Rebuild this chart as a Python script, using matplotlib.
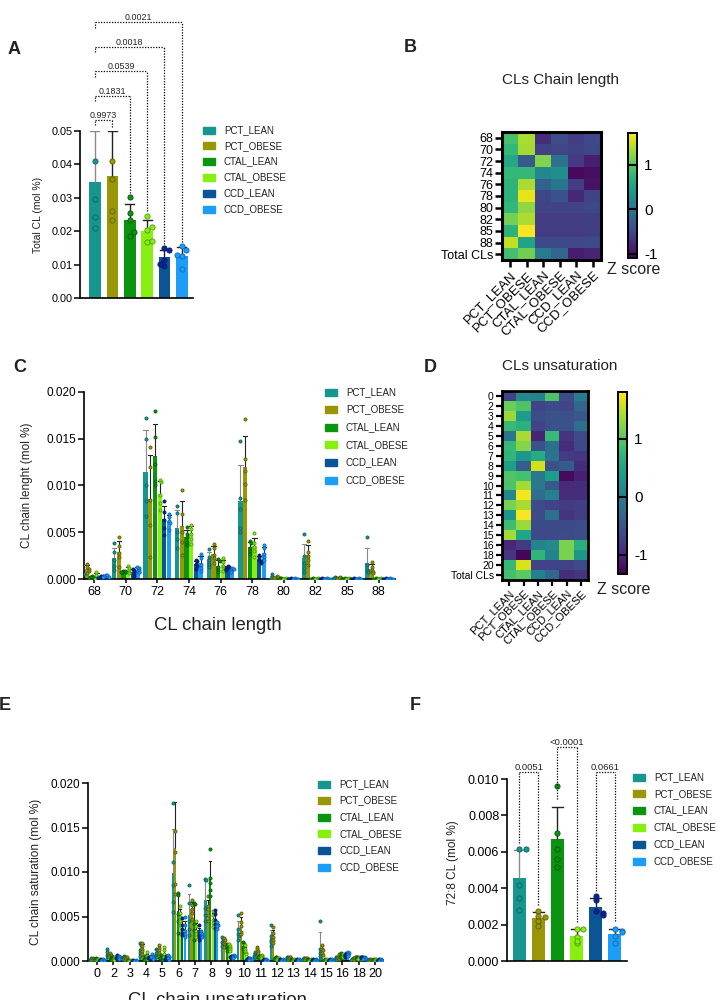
import numpy as np
import matplotlib
matplotlib.use("Agg")
import matplotlib.pyplot as plt
from matplotlib.patches import Rectangle
from matplotlib.ticker import FormatStrFormatter

plt.rcParams['font.family'] = ['Liberation Sans', 'DejaVu Sans']
plt.rcParams['axes.unicode_minus'] = False
plt.rcParams['axes.linewidth'] = 1.2

W, H = 726, 1000

groups = ['PCT_LEAN', 'PCT_OBESE', 'CTAL_LEAN', 'CTAL_OBESE', 'CCD_LEAN', 'CCD_OBESE']
colors = ['#17958f', '#999708', '#0a9410', '#88f010', '#0b5597', '#1c9ef8']
pt_face = ['#17958f', '#999708', '#0a9410', '#88f010', '#0d2490', '#1c9ef8']
pt_edge = ['#0b625e', '#5e5c00', '#005a08', '#4e9a00', '#061a70', '#0a66b8']
err_col = ['#8a8a8a', '#222222', '#222222', '#222222', '#222222', '#222222']

# ---- panel A: total CL (mol %)
a_mean = [0.0347, 0.0366, 0.0235, 0.0201, 0.0122, 0.0125]
a_sd = [0.0153, 0.0134, 0.0046, 0.0032, 0.0022, 0.0027]
a_pts = [[0.0410, 0.0296, 0.0242, 0.0209],
         [0.0411, 0.0356, 0.0259, 0.0234],
         [0.0302, 0.0255, 0.0233, 0.0187, 0.0197],
         [0.0247, 0.0205, 0.0213, 0.0167, 0.0170],
         [0.0151, 0.0145, 0.0115, 0.0097, 0.0103],
         [0.0155, 0.0143, 0.0125, 0.0128, 0.0086]]
a_pairs = [(0, 1), (0, 2), (0, 3), (0, 4), (0, 5)]
a_pvals = ['0.9973', '0.1831', '0.0539', '0.0018', '0.0021']

# ---- panel B: z scores chain length
b_rows = ['68', '70', '72', '74', '76', '78', '80', '82', '85', '88', 'Total CLs']
b_z = [[0.90, 1.35, -0.72, -0.42, -0.60, -0.47],
       [0.78, 1.33, -0.55, -0.50, -0.55, -0.48],
       [0.60, -0.30, 1.18, -0.05, -0.62, -0.85],
       [0.78, 0.78, 0.22, 0.30, -1.02, -0.97],
       [0.72, 1.35, -0.22, 0.00, -0.58, -0.95],
       [0.72, 1.62, -0.50, -0.39, -0.78, -0.53],
       [0.76, 1.25, -0.52, -0.52, -0.52, -0.48],
       [1.12, 1.37, -0.60, -0.60, -0.60, -0.57],
       [0.72, 1.68, -0.60, -0.60, -0.60, -0.57],
       [1.45, 0.55, -0.47, -0.47, -0.47, -0.45],
       [0.87, 1.10, 0.08, -0.18, -0.87, -0.80]]

# ---- panel C: chain length (x1e-3 mol %), 5 samples per group
c_labels = ['68', '70', '72', '74', '76', '78', '80', '82', '85', '88']
tiny = [0.06, 0.05, 0.05, 0.04, 0.03]
c_pts = [
    [[1.8, 1.2, 0.9, 0.6, 0.5], [1.6, 1.3, 1.1, 0.9, 0.6], [0.3, 0.2, 0.2, 0.15, 0.15],
     [0.8, 0.4, 0.2, 0.1, 0.0], [0.3, 0.3, 0.2, 0.1, 0.1], [0.4, 0.4, 0.3, 0.2, 0.2]],
    [[3.8, 2.9, 2.0, 1.4, 1.0], [4.5, 3.5, 2.8, 2.4, 1.3], [0.9, 0.9, 0.8, 0.7, 0.7],
     [1.4, 1.2, 1.0, 0.8, 0.6], [1.1, 0.9, 0.7, 0.5, 0.3], [1.3, 1.2, 1.0, 0.8, 0.7]],
    [[17.2, 15.0, 10.0, 8.3, 6.7], [14.1, 12.0, 8.5, 5.8, 2.4], [18.0, 15.2, 12.3, 10.5, 10.0],
     [10.6, 10.4, 9.0, 8.1, 7.4], [8.3, 7.2, 6.3, 5.5, 4.7], [7.0, 6.6, 6.2, 6.0, 5.2]],
    [[7.8, 7.1, 5.0, 4.3, 3.3], [9.5, 7.0, 5.0, 4.0, 2.6], [5.6, 4.8, 4.5, 4.0, 3.6],
     [5.8, 5.4, 4.8, 4.3, 3.7], [2.0, 1.9, 1.6, 1.4, 1.1], [2.7, 2.2, 1.5, 1.2, 0.9]],
    [[3.2, 2.4, 2.0, 1.6, 1.3], [3.7, 3.3, 2.6, 2.2, 1.7], [2.1, 1.9, 1.3, 1.0, 0.7],
     [2.2, 1.8, 1.4, 1.2, 0.9], [1.4, 1.3, 1.2, 1.1, 1.0], [1.2, 1.1, 1.0, 0.9, 0.8]],
    [[14.8, 8.7, 7.5, 5.5, 5.0], [17.1, 12.8, 11.5, 10.2, 8.4], [4.1, 3.9, 3.3, 3.0, 2.7],
     [4.9, 3.8, 3.4, 3.0, 2.4], [2.6, 2.3, 2.0, 1.9, 1.7], [3.6, 3.3, 2.7, 2.4, 2.0]],
    [[0.5, 0.2, 0.0, 0.0, 0.0], [0.3, 0.2, 0.1, 0.1, 0.1], tiny, tiny, tiny, tiny],
    [[4.8, 2.5, 1.7, 1.2, 0.8], [4.1, 2.9, 2.5, 2.0, 1.5], tiny, tiny, tiny, tiny],
    [[0.2, 0.1, 0.1, 0.05, 0.05], [0.2, 0.1, 0.1, 0.05, 0.05], tiny, tiny, tiny, tiny],
    [[4.5, 1.5, 1.0, 0.8, 0.7], [1.8, 1.3, 1.0, 0.8, 0.6], tiny, tiny, tiny, tiny],
]

# ---- panel D: z scores unsaturation
d_rows = ['0', '2', '3', '4', '5', '6', '7', '8', '9', '10', '11', '12', '13', '14',
          '15', '16', '18', '20', 'Total CLs']
d_z = [[-0.70, 0.15, 0.08, 0.93, -0.60, 0.00],
       [1.09, 0.93, -0.70, -0.60, -0.67, -0.29],
       [1.34, 0.40, -0.58, -0.55, -0.55, -0.48],
       [0.80, 0.68, -0.70, -0.55, -0.55, -0.17],
       [-0.10, 1.40, -1.00, 0.80, -0.86, -0.60],
       [0.77, 1.24, -0.55, -0.17, -0.92, -0.64],
       [0.74, 0.33, 0.62, -0.14, -0.77, -0.83],
       [0.46, -0.39, 1.59, -0.55, -0.42, -0.92],
       [0.96, 0.90, -0.07, 0.43, -1.24, -1.05],
       [0.93, 1.37, -0.07, -0.45, -0.95, -0.92],
       [0.12, 1.75, -0.20, 0.05, -0.92, -0.92],
       [1.18, 1.40, -0.60, -0.70, -0.77, -0.75],
       [0.33, 1.78, -0.60, -0.17, -0.85, -0.77],
       [0.84, 1.34, -0.62, -0.62, -0.62, -0.58],
       [1.38, 0.52, -0.62, -0.62, -0.60, -0.58],
       [-0.98, -0.80, 0.08, 0.15, 1.18, 0.65],
       [-0.83, -1.27, 0.72, 0.05, 1.18, 0.30],
       [0.77, 1.62, -0.70, -0.70, -0.70, -0.60],
       [0.87, 1.02, 0.02, -0.26, -0.92, -0.86]]

# ---- panel E: chain unsaturation (x1e-3 mol %)
e_labels = ['0', '2', '3', '4', '5', '6', '7', '8', '9', '10', '11', '12', '13', '14',
            '15', '16', '18', '20']
small = [0.2, 0.1, 0.1, 0.05, 0.05]
e_pts = [
    [[0.3, 0.2, 0.1, 0.1, 0.05], [0.3, 0.25, 0.2, 0.15, 0.1], [0.3, 0.2, 0.2, 0.15, 0.1],
     [0.25, 0.2, 0.15, 0.1, 0.05], small, small],
    [[1.3, 1.0, 0.7, 0.6, 0.4], [0.9, 0.7, 0.6, 0.5, 0.3], [0.5, 0.4, 0.3, 0.2, 0.1],
     [0.5, 0.4, 0.3, 0.2, 0.1], [0.7, 0.5, 0.4, 0.3, 0.1], [0.6, 0.5, 0.4, 0.3, 0.2]],
    [[0.6, 0.5, 0.4, 0.3, 0.2], [0.5, 0.4, 0.3, 0.2, 0.1], tiny, tiny, tiny, tiny],
    [[2.0, 1.8, 1.2, 0.9, 0.6], [2.0, 1.7, 1.4, 1.1, 0.8], [0.6, 0.4, 0.3, 0.2, 0.1],
     [1.0, 0.6, 0.4, 0.3, 0.2], [0.5, 0.5, 0.4, 0.3, 0.3], [0.8, 0.6, 0.5, 0.4, 0.2]],
    [[1.4, 1.2, 0.9, 0.6, 0.4], [1.8, 1.5, 1.2, 0.9, 0.6], [0.7, 0.5, 0.4, 0.3, 0.1],
     [1.6, 1.2, 0.8, 0.5, 0.4], [0.6, 0.4, 0.3, 0.2, 0.1], [0.7, 0.5, 0.4, 0.3, 0.1]],
    [[17.8, 11.1, 8.5, 6.6, 5.5], [20.5, 14.6, 12.3, 8.6, 7.5], [7.6, 7.4, 5.3, 4.5, 3.2],
     [6.2, 5.4, 4.9, 4.5, 4.0], [4.8, 4.0, 3.6, 3.2, 2.9], [4.9, 4.0, 3.4, 3.0, 2.7]],
    [[8.5, 6.5, 4.5, 3.6, 2.9], [6.8, 6.3, 5.8, 5.4, 4.7], [6.5, 6.4, 4.2, 3.5, 2.4],
     [4.5, 3.9, 3.4, 3.0, 2.7], [4.0, 3.4, 3.0, 2.7, 2.4], [3.4, 3.1, 3.0, 2.8, 2.7]],
    [[9.2, 9.1, 6.0, 5.2, 4.5], [7.3, 6.2, 5.8, 5.2, 4.5], [12.6, 9.3, 8.8, 8.0, 7.3],
     [5.6, 5.2, 4.6, 4.3, 3.8], [5.7, 5.3, 4.6, 4.2, 3.7], [4.4, 4.1, 4.0, 3.9, 3.6]],
    [[2.7, 2.5, 2.1, 2.0, 1.7], [2.6, 2.4, 2.0, 1.9, 1.6], [1.9, 1.7, 1.5, 1.3, 1.1],
     [1.9, 1.7, 1.5, 1.3, 1.1], [0.6, 0.6, 0.5, 0.4, 0.4], [0.7, 0.6, 0.5, 0.4, 0.3]],
    [[5.2, 3.6, 3.0, 2.8, 2.4], [5.4, 4.4, 3.9, 3.3, 3.0], [2.1, 1.9, 1.6, 1.3, 1.1],
     [1.8, 1.4, 1.1, 0.9, 0.8], [0.3, 0.3, 0.2, 0.1, 0.1], [0.3, 0.2, 0.2, 0.2, 0.1]],
    [[1.0, 0.8, 0.7, 0.6, 0.4], [1.6, 1.3, 1.1, 0.9, 0.6], [0.6, 0.6, 0.5, 0.4, 0.4],
     [0.7, 0.6, 0.5, 0.4, 0.3], small, small],
    [[4.0, 2.8, 2.4, 2.1, 1.7], [3.8, 3.1, 2.7, 2.4, 2.0], [0.4, 0.4, 0.3, 0.2, 0.2],
     [0.3, 0.3, 0.2, 0.1, 0.1], small, small],
    [[0.5, 0.4, 0.3, 0.2, 0.1], [0.5, 0.4, 0.3, 0.2, 0.1], small, small, small, small],
    [[0.3, 0.3, 0.2, 0.1, 0.1], [0.3, 0.3, 0.2, 0.1, 0.1], small, small, small, small],
    [[4.5, 1.3, 0.9, 0.6, 0.2], [1.8, 1.4, 1.2, 0.9, 0.7], small, small, small, small],
    [[0.5, 0.4, 0.3, 0.2, 0.1], [0.8, 0.6, 0.5, 0.4, 0.2], [0.9, 0.7, 0.6, 0.5, 0.3],
     [0.8, 0.7, 0.6, 0.5, 0.4], [0.9, 0.8, 0.7, 0.6, 0.5], [1.0, 0.9, 0.8, 0.7, 0.6]],
    [[0.3, 0.2, 0.2, 0.1, 0.1], [0.5, 0.4, 0.3, 0.2, 0.1], [0.4, 0.4, 0.3, 0.2, 0.2],
     [0.4, 0.3, 0.3, 0.2, 0.2], [0.5, 0.5, 0.4, 0.3, 0.3], [0.4, 0.3, 0.3, 0.2, 0.2]],
    [small, small, small, small, small, small],
]

# ---- panel F: 72:8 CL (x1e-3 mol %)
f_pts = [[6.15, 6.15, 4.15, 3.45, 2.80],
         [2.75, 2.50, 2.40, 2.20, 1.90],
         [9.60, 7.06, 6.15, 5.61, 5.19],
         [1.74, 1.74, 1.34, 0.97, 1.10],
         [3.58, 3.36, 2.72, 2.65, 2.55],
         [1.74, 1.67, 1.60, 1.38, 0.97]]
f_pairs = [(0, 1), (2, 3), (4, 5)]
f_pvals = ['0.0051', '<0.0001', '0.0661']

TXT = '#222222'
fig = plt.figure(figsize=(W / 100, H / 100), dpi=100)


def px_axes(x0, y0, x1, y1):
    return fig.add_axes([x0 / W, 1 - y1 / H, (x1 - x0) / W, (y1 - y0) / H])


def spread(vals, thr, step):
    offs = []
    for i, y in enumerate(vals):
        n = sum(abs(vals[j] - y) < thr for j in range(i))
        offs.append(0 if n == 0 else step * ((n + 1) // 2) * (1 if n % 2 else -1))
    return np.array(offs)


def bar_with_points(ax, x, m, s, vals, k, width, cap, thr, step, ms, elw):
    ax.bar(x, m, width, color=colors[k], zorder=2, linewidth=0)
    ax.plot([x, x], [m, m + s], color=err_col[k], lw=elw, zorder=3, solid_capstyle='butt')
    ax.plot([x - cap, x + cap], [m + s, m + s], color=err_col[k], lw=elw, zorder=3)
    v = np.asarray(vals)
    ax.scatter(x + spread(v, thr, step), v, s=ms, c=pt_face[k], edgecolors=pt_edge[k],
               linewidths=0.6, zorder=4)


def style_bar_axes(ax, ymax, ystep, fmt, fs):
    for sp in ['top', 'right']:
        ax.spines[sp].set_visible(False)
    ax.set_ylim(0, ymax)
    ax.set_yticks(np.arange(0, ymax + ystep / 2, ystep))
    ax.yaxis.set_major_formatter(FormatStrFormatter(fmt))
    ax.tick_params(axis='y', labelsize=fs, length=4, width=1.1, pad=1.5, colors='black')
    ax.patch.set_alpha(0)


def legend(x, y, step, fs=7):
    for k, g in enumerate(groups):
        yc = y + k * step
        fig.patches.append(Rectangle((x / W, 1 - (yc + 3.5) / H), 12 / W, 7 / H,
                                     transform=fig.transFigure, color=colors[k]))
        fig.text((x + 21) / W, 1 - yc / H, g, fontsize=fs, va='center', ha='left', color=TXT)


def panel_letter(x, y, s):
    fig.text(x / W, 1 - y / H, s, fontsize=13, fontweight='bold', ha='center', va='center',
             color=TXT)


def brackets(ax, pairs, pvals, levels, left_bot, right_bot, fs):
    for (i, j), p, lv, lb, rb in zip(pairs, pvals, levels, left_bot, right_bot):
        kw = dict(color='black', lw=0.9, ls=(0, (1, 1.2)), clip_on=False, zorder=5)
        ax.plot([i, i], [lb, lv], **kw)
        ax.plot([i, j], [lv, lv], **kw)
        ax.plot([j, j], [rb, lv], **kw)
        ax.text((i + j) / 2, lv, p, ha='center', va='bottom', fontsize=fs, color=TXT,
                clip_on=False)


# ================= A
axA = px_axes(80, 131, 193, 298)
for k in range(6):
    bar_with_points(axA, k, a_mean[k], a_sd[k], a_pts[k], k, 0.67, 0.26, 0.0015, 0.26, 14, 1.0)
style_bar_axes(axA, 0.05, 0.01, '%.2f', 7.8)
axA.set_xlim(-0.86, 5.64)
axA.set_xticks([])
axA.set_ylabel('Total CL (mol %)', fontsize=7.5, color=TXT)
axA.yaxis.set_label_coords(-0.33, 0.5)
tops = [max(a_mean[k] + a_sd[k], max(a_pts[k])) for k in range(6)]
a_levels = [0.0533 + n * 0.0073 for n in range(len(a_pairs))]
a_left = [lv - 0.0016 for lv in a_levels]
a_right = [min(tops[j], 0.05) + 0.0012 for _, j in a_pairs]
brackets(axA, a_pairs, a_pvals, a_levels, a_left, a_right, 6.4)
legend(203, 130, 15.8)
panel_letter(14, 50, 'A')


# ================= heatmaps
def heatmap(ax, cax, z, rows, vmin, vmax, fsy, fsx, tl, tw, spw, title, ty, zy):
    im = ax.imshow(np.array(z), cmap='viridis', vmin=vmin, vmax=vmax, aspect='auto',
                   interpolation='nearest')
    ax.set_yticks(range(len(rows)), rows, fontsize=fsy)
    ax.set_xticks(range(6), groups, fontsize=fsx, rotation=45, ha='right',
                  rotation_mode='anchor')
    ax.tick_params(length=tl, width=tw, pad=1.5, colors='black')
    for sp in ax.spines.values():
        sp.set_linewidth(spw)
    cb = fig.colorbar(im, cax=cax, ticks=[-1, 0, 1])
    cb.outline.set_linewidth(1.4)
    for t in [-1, 0, 1]:
        cax.axhline(t, color='black', lw=1.5)
    cax.tick_params(length=0, labelsize=11, pad=5)
    fig.text(560 / W, 1 - ty / H, title, fontsize=11, ha='center', va='center', color=TXT)
    bb = cax.get_position()
    fig.text((bb.x0 + bb.x1) / 2 + 1 / W, 1 - zy / H, 'Z score', fontsize=11.5, ha='center',
             va='center', color=TXT)


axB = px_axes(502, 132, 601, 260)
caxB = px_axes(628, 133, 637, 258)
heatmap(axB, caxB, b_z, b_rows, -1.09, 1.71, 9, 9.5, 5, 1.8, 2.2, 'CLs Chain length', 80, 269)
panel_letter(410, 47, 'B')

axD = px_axes(502, 391, 588, 580)
caxD = px_axes(618, 392, 627, 574)
heatmap(axD, caxD, d_z, d_rows, -1.33, 1.81, 7.5, 8, 4.5, 1.6, 2.0, 'CLs unsaturation', 366, 590)
panel_letter(430, 368, 'D')


# ================= grouped bars C / E
def grouped(ax, pts, labels, pitch, width):
    for g, grp in enumerate(pts):
        for k, vals in enumerate(grp):
            v = np.asarray(vals) * 1e-3
            x = g + (k - 2.5) * pitch
            bar_with_points(ax, x, v.mean(), v.std(ddof=1), v, k, width, width * 0.5,
                            0.00025, 0.045, 5, 0.8)
    style_bar_axes(ax, 0.020, 0.005, '%.3f', 8.5)
    ax.set_xticks(range(len(labels)), labels)
    ax.tick_params(axis='x', labelsize=9, length=3, width=1.1, pad=2, colors='black')


axC = px_axes(84, 392, 395, 579)
grouped(axC, c_pts, c_labels, 0.148, 0.135)
axC.set_xlim(-0.32, 9.52)
axC.set_ylabel('CL chain lenght (mol %)', fontsize=8.5, color=TXT)
axC.yaxis.set_label_coords(-0.164, 0.5)
axC.set_xlabel('CL chain length', fontsize=13.3, color=TXT)
axC.xaxis.set_label_coords(0.43, -0.205)
legend(325, 392, 17.6)
panel_letter(20, 368, 'C')

axE = px_axes(88, 783, 383, 961)
grouped(axE, e_pts, e_labels, 0.146, 0.13)
axE.set_xlim(-0.55, 17.49)
axE.set_ylabel('CL chain saturation (mol %)', fontsize=8.6, color=TXT)
axE.yaxis.set_label_coords(-0.156, 0.5)
axE.set_xlabel('CL chain unsaturation', fontsize=13.3, color=TXT)
axE.xaxis.set_label_coords(0.44, -0.175)
legend(318, 784, 16.6)
panel_letter(5, 706, 'E')

# ================= F
axF = px_axes(507, 779, 627, 961)
f_tops = []
for k in range(6):
    v = np.asarray(f_pts[k]) * 1e-3
    m, s = v.mean(), v.std(ddof=1)
    f_tops.append(m + s)
    bar_with_points(axF, k, m, s, v, k, 0.68, 0.29, 0.00012, 0.36, 14, 1.0)
style_bar_axes(axF, 0.010, 0.002, '%.3f', 9)
axF.set_xlim(-0.64, 5.64)
axF.set_xticks([])
axF.set_ylabel('72:8 CL (mol %)', fontsize=8.5, color=TXT)
axF.yaxis.set_label_coords(-0.40, 0.54)
f_left = [f_tops[i] + 0.0004 for i, _ in f_pairs]
f_right = [f_tops[j] + 0.0004 for _, j in f_pairs]
f_levels = [max(0.0104, max(a, b) + 0.0029) for a, b in zip(f_left, f_right)]
brackets(axF, f_pairs, f_pvals, f_levels, f_left, f_right, 6.8)
legend(633, 777, 16.8)
panel_letter(415, 706, 'F')

fig.savefig('out.png', dpi=100)
